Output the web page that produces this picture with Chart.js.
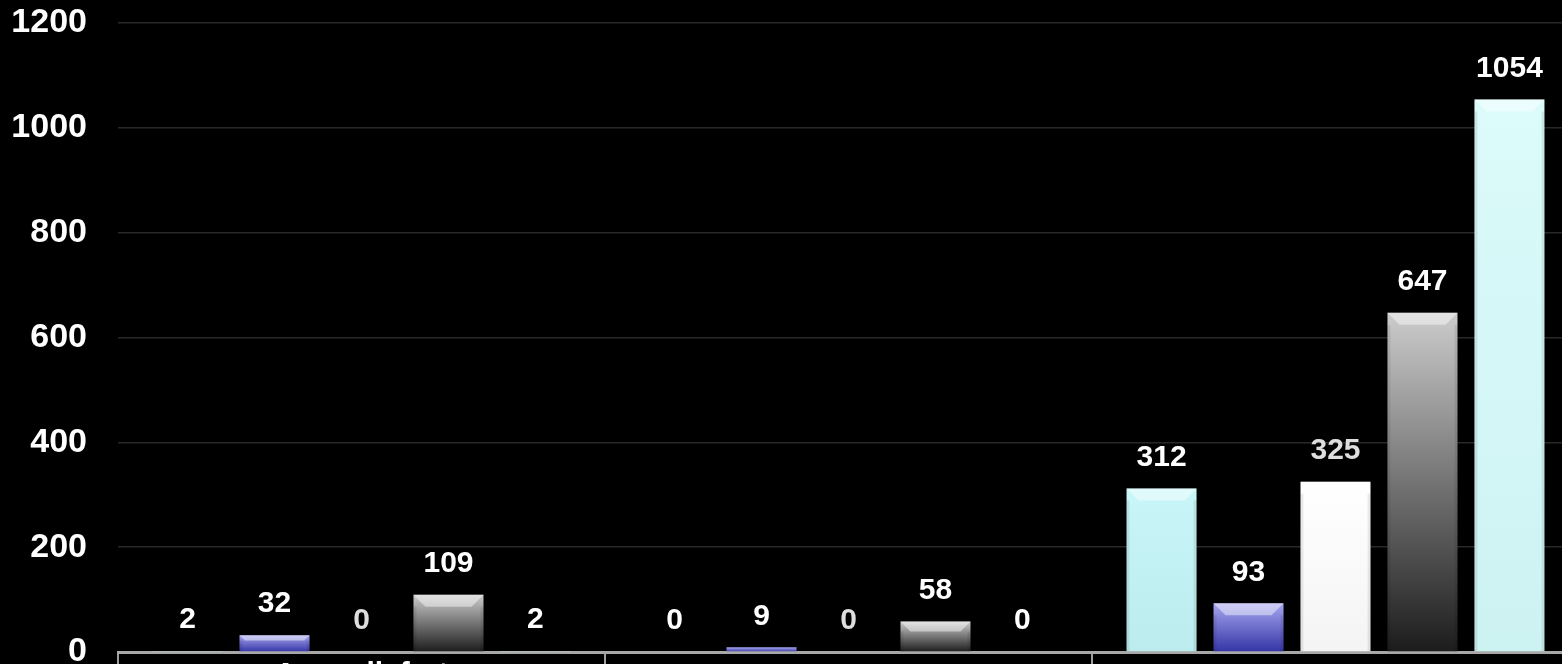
<!DOCTYPE html>
<html>
<head>
<meta charset="utf-8">
<script src="https://cdn.jsdelivr.net/npm/chart.js@4.4.1/dist/chart.umd.min.js"></script>
<style>
    html, body {
        margin: 0;
        padding: 0;
        background: #000000;
        overflow: hidden;
    }
    #wrap {
        position: relative;
        width: 1579px;
        height: 720px;
    }
</style>
</head>
<body>
<div id="wrap"><canvas id="bar-chart"></canvas></div>
<script>
// Chart data
const categories = ['Ausgeliefert', '', ''];
const seriesA = [2, 0, 312];
const seriesB = [32, 9, 93];
const seriesC = [0, 0, 325];
const seriesD = [109, 58, 647];
const seriesE = [2, 0, 1054];
const yMin = 0;
const yMax = 1200;
const yStep = 200;

const FONT = "'Liberation Sans', Arial, sans-serif";

/**
 * Vertical gradient per bar, from its top down to the zero line
 */
function barGradient(topColor, bottomColor) {
    return function(context) {
        const chart = context.chart;
        const y = chart.scales.y;
        if (!y || context.raw == null) {
            return topColor;
        }
        const yTop = y.getPixelForValue(context.raw);
        const yBase = y.getPixelForValue(0);
        if (!isFinite(yTop) || !isFinite(yBase) || yBase - yTop < 1) {
            return topColor;
        }
        const g = chart.ctx.createLinearGradient(0, yTop, 0, yBase);
        g.addColorStop(0, topColor);
        g.addColorStop(1, bottomColor);
        return g;
    };
}

// Light bevel on top of each bar plus value labels above it
const barDecor = {
    id: 'barDecor',
    afterDatasetsDraw(chart) {
        const ctx = chart.ctx;
        ctx.save();
        chart.data.datasets.forEach((ds, di) => {
            const meta = chart.getDatasetMeta(di);
            meta.data.forEach((bar, i) => {
                const h = bar.base - bar.y;
                const half = bar.width / 2;
                if (h > 4) {
                    const b = Math.min(12, h / 3);
                    ctx.fillStyle = 'rgba(255,255,255,0.45)';
                    ctx.beginPath();
                    ctx.moveTo(bar.x - half, bar.y);
                    ctx.lineTo(bar.x + half, bar.y);
                    ctx.lineTo(bar.x + half - b, bar.y + b);
                    ctx.lineTo(bar.x - half + b, bar.y + b);
                    ctx.closePath();
                    ctx.fill();
                    ctx.fillStyle = 'rgba(0,0,0,0.08)';
                    ctx.fillRect(bar.x - half, bar.y + b, 3, h - b);
                    ctx.fillRect(bar.x + half - 3, bar.y + b, 3, h - b);
                }
                ctx.font = `bold 30px ${FONT}`;
                ctx.textAlign = 'center';
                ctx.textBaseline = 'middle';
                ctx.fillStyle = ds.labelColor || '#ffffff';
                ctx.fillText(String(ds.data[i]), bar.x, bar.y - 31);
            });
        });
        ctx.restore();
    }
};

function makeDataset(label, data, top, bottom, labelColor) {
    return {
        label: label,
        data: data,
        backgroundColor: barGradient(top, bottom),
        borderWidth: 0,
        labelColor: labelColor,
        categoryPercentage: 0.893,
        barPercentage: 0.805
    };
}

const ctx = document.getElementById('bar-chart').getContext('2d');

new Chart(ctx, {
    type: 'bar',
    data: {
        labels: categories,
        datasets: [
            makeDataset('Reihe 1', seriesA, '#c9f6f8', '#bcecee', '#ffffff'),
            makeDataset('Reihe 2', seriesB, '#a6a6f0', '#3434a6', '#ffffff'),
            makeDataset('Reihe 3', seriesC, '#ffffff', '#f4f4f4', '#dedede'),
            makeDataset('Reihe 4', seriesD, '#cccccc', '#1c1c1c', '#ffffff'),
            makeDataset('Reihe 5', seriesE, '#dcfbfb', '#cdf2f2', '#ffffff')
        ]
    },
    options: {
        responsive: true,
        maintainAspectRatio: false,
        animation: false,
        layout: {
            padding: 0
        },
        plugins: {
            legend: { display: false },
            tooltip: { enabled: false }
        },
        scales: {
            x: {
                offset: true,
                grid: {
                    offset: true,
                    drawOnChartArea: false,
                    drawTicks: true,
                    tickLength: 70,
                    color: '#a0a0a0',
                    lineWidth: 2
                },
                border: {
                    display: true,
                    color: '#a8a8a8',
                    width: 3
                },
                ticks: {
                    color: '#ffffff',
                    autoSkip: false,
                    maxRotation: 0,
                    padding: -65,
                    font: {
                        family: FONT,
                        size: 30,
                        weight: 'bold'
                    }
                },
                afterFit: function(scale) {
                    scale.height = 68;
                    scale.paddingLeft = 0;
                    scale.paddingRight = 0;
                }
            },
            y: {
                min: yMin,
                max: yMax,
                grid: {
                    color: '#282828',
                    lineWidth: 1.5,
                    drawTicks: false
                },
                border: { display: false },
                ticks: {
                    stepSize: yStep,
                    color: '#ffffff',
                    padding: 31,
                    font: {
                        family: FONT,
                        size: 34,
                        weight: 'bold'
                    },
                    callback: function(value) {
                        return String(value);
                    }
                },
                afterFit: function(scale) {
                    scale.width = 118;
                    scale.paddingTop = 23;
                    scale.paddingBottom = 0;
                }
            }
        }
    },
    plugins: [barDecor]
});
</script>
</body>
</html>
